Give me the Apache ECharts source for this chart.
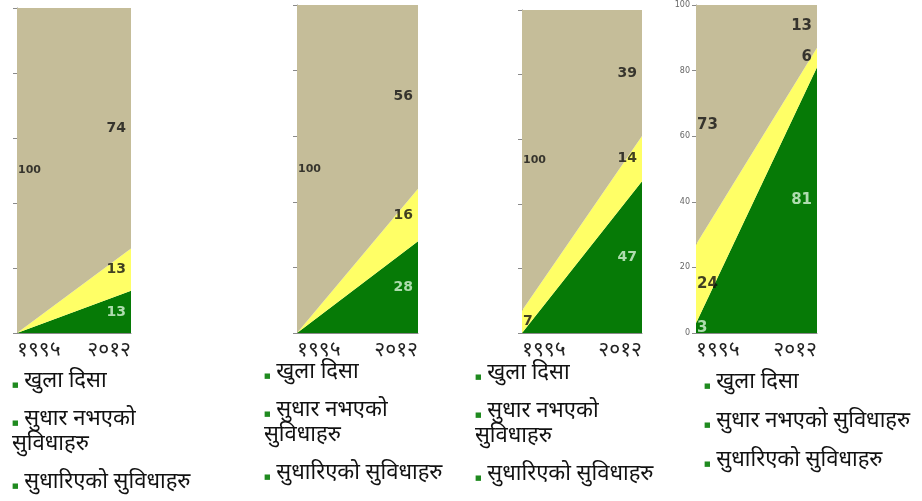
<!DOCTYPE html>
<html><head><meta charset="utf-8">
<script src="https://cdn.jsdelivr.net/npm/echarts@6/dist/echarts.min.js"></script>
<style>html,body{margin:0;padding:0;background:#fff}#c{width:922px;height:501px}</style>
</head><body><div id="c"></div>
<script>
// ---- data ----
const years = ['१९९५', '२०१२'];
const seriesNames = ['खुला दिसा', 'सुधार नभएको सुविधाहरु', 'सुधारिएको सुविधाहरु'];
const yTicks = [0, 20, 40, 60, 80, 100];
// four panels, values at 1995 and 2012 (percent)
const openDefecation = [[100, 74], [100, 56], [100, 39], [73, 13]];
const unimproved     = [[0, 13],   [0, 16],   [7, 14],   [24, 6]];
const improved       = [[0, 13],   [0, 28],   [0, 47],   [3, 81]];

// ---- layout / style ----
const grids = [
  {left: 17, width: 114, top: 8, height: 325},
  {left: 297, width: 121, top: 5, height: 328},
  {left: 522, width: 120, top: 10, height: 323},
  {left: 696, width: 121, top: 5, height: 328}
];
const legendPos = [
  {left: 7, top: 370, gap: 13, wrap: true},
  {left: 259, top: 361, gap: 13, wrap: true},
  {left: 470, top: 362, gap: 13, wrap: true},
  {left: 699, top: 371, gap: 14, wrap: false}
];
const COL_TAN = '#c5bd99', COL_YEL = '#ffff66', COL_GRN = '#067a06';
const DEV = "'Noto Sans Devanagari','Lohit Devanagari','Noto Serif Devanagari',sans-serif";
const NUMF = "Verdana,'DejaVu Sans',sans-serif";

const option = {
  animation: false,
  grid: grids.map(g => Object.assign({containLabel: false}, g)),
  xAxis: grids.map((g, i) => ({
    type: 'category', gridIndex: i, data: years, boundaryGap: false,
    axisLine: {lineStyle: {color: '#8a8a8a'}},
    axisTick: {show: false},
    axisLabel: {fontFamily: DEV, fontSize: 21, color: '#222', margin: 9,
      alignMinLabel: 'left', alignMaxLabel: 'right'}
  })),
  yAxis: grids.map((g, i) => ({
    type: 'value', gridIndex: i, min: 0, max: 100, interval: 20,
    splitLine: {show: false},
    axisLine: {show: true, lineStyle: {color: '#8a8a8a'}},
    axisTick: {show: true, length: 4, lineStyle: {color: '#8a8a8a'}},
    axisLabel: {show: i === 3, fontSize: 8, color: '#666', margin: 6, fontFamily: NUMF}
  })),
  legend: legendPos.map((p, i) => ({
    left: p.left, top: p.top, height: 200, padding: 0, orient: 'vertical',
    itemGap: p.gap, itemWidth: 0, itemHeight: 0, icon: 'rect',
    selectedMode: false,
    data: seriesNames.map(n => ({name: n, itemStyle: {opacity: 0}})),
    formatter: name => {
      if (p.wrap && name === seriesNames[1]) {
        return '{m|■}{t| सुधार नभएको}\n{t|सुविधाहरु}';
      }
      return '{m|■}{t| ' + name + '}';
    },
    textStyle: {
      lineHeight: 25, fontSize: 22, fontFamily: DEV, color: '#111',
      rich: {
        m: {fontSize: 7, color: '#1f8a1f', verticalAlign: 'middle', padding: [5, 0, 0, 0], lineHeight: 25, fontFamily: 'DejaVu Sans'},
        t: {fontSize: 22, color: '#111', fontFamily: DEV, lineHeight: 25}
      }
    }
  })),
  series: []
};

for (let p = 0; p < 4; p++) {
  const layers = [
    {name: seriesNames[2], vals: improved[p], color: COL_GRN, lab: '#d8f5d8'},
    {name: seriesNames[1], vals: unimproved[p], color: COL_YEL, lab: '#111'},
    {name: seriesNames[0], vals: openDefecation[p], color: COL_TAN, lab: '#111'}
  ];
  layers.forEach(l => {
    option.series.push({
      type: 'line', name: l.name, xAxisIndex: p, yAxisIndex: p,
      stack: 'total' + p, data: l.vals, symbol: 'none',
      lineStyle: {width: 0}, areaStyle: {color: l.color, opacity: 1},
      color: l.color, z: 2
    });
  });
  // data labels at the middle of each band
  const labelData = [];
  [0, 1].forEach(i => {
    let base = 0;
    layers.forEach(l => {
      const v = l.vals[i];
      const top = Math.min(100, base + v);
      if (v > 0) {
        labelData.push({
          value: [i, (base + top) / 2], text: String(v),
          label: {
            position: i === 0 ? 'right' : 'left', distance: i === 0 ? 1 : 5,
            color: l.lab,
            fontSize: (p < 3 && v === 100) ? 11 : (p === 3 ? 15 : 14)
          }
        });
      }
      base = top;
    });
  });
  option.series.push({
    type: 'scatter', xAxisIndex: p, yAxisIndex: p, symbolSize: 0, z: 5,
    data: labelData, silent: true,
    label: {show: true, fontFamily: NUMF, fontWeight: 'bold',
      formatter: prm => prm.data.text}
  });
}

const chart = echarts.init(document.getElementById('c'), null, {renderer: 'canvas'});
chart.setOption(option);
</script>
</body></html>
